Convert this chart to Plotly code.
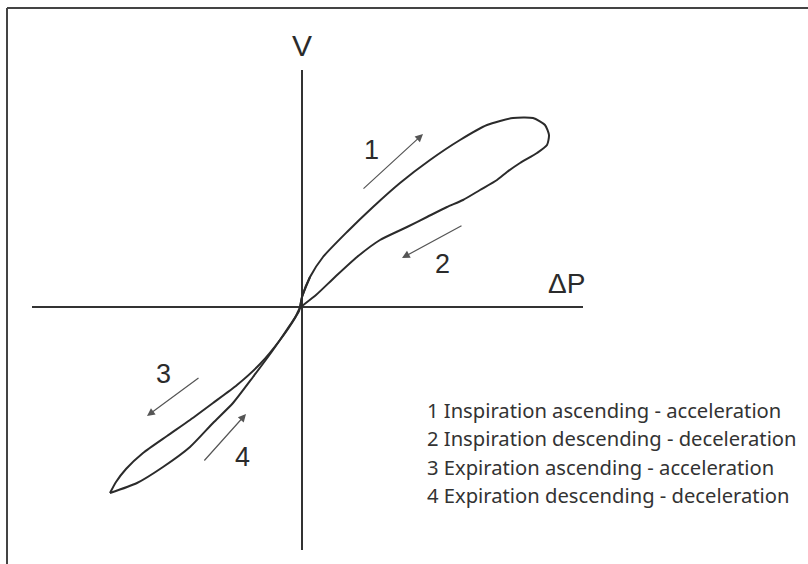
import plotly.graph_objects as go

# Pressure-volume loop (ΔP horizontal, V vertical), traced in order:
# inspiration ascending -> inspiration descending -> expiration ascending -> expiration descending
dp_inspiration = [-2, 0, 8, 21, 45, 71, 98, 128, 158, 185, 211, 231, 243, 247, 245, 235, 218, 205,
                  195, 178, 161, 145, 125, 105, 78, 55, 33, 14, -2]
v_inspiration = [-1, 10, 30, 50, 75, 100, 124, 147, 167, 182, 189, 189, 182, 172, 162, 154, 144, 135,
                 127, 117, 107, 100, 90, 80, 67, 50, 30, 12, -1]
dp_exp_ascending = [-2, -7, -22, -42, -65, -89, -112, -135, -159, -176, -186, -192]
v_exp_ascending = [-1, -11, -33, -57, -78, -96, -113, -129, -146, -162, -175, -186]
dp_exp_descending = [-192, -165, -139, -112, -89, -69, -49, -29, -12, -3, 0, 8]
v_exp_descending = [-186, -176, -160, -140, -116, -96, -70, -43, -18, -4, 10, 30]

# Axis extents
dp_axis = [-270, 281]
v_axis = [-243, 237]

# Phase arrows and their numbers
phase_labels = ["1", "2", "3", "4"]
arrow_tail_dp = [60, 161, -102, -99]
arrow_tail_v = [117, 82, -70, -155]
arrow_head_dp = [121, 100, -155, -56]
arrow_head_v = [173, 49, -109, -107]
label_dp = [69, 140, -139, -60]
label_v = [157, 43, -67, -150]

legend_lines = [
    "1 Inspiration ascending - acceleration",
    "2 Inspiration descending - deceleration",
    "3 Expiration ascending - acceleration",
    "4 Expiration descending - deceleration",
]
legend_v = [-103, -131, -160, -188]
legend_dp = 123

ink = "#2b2b2b"
fig = go.Figure()

# Axes
fig.add_trace(go.Scatter(x=dp_axis, y=[0, 0], mode="lines",
                         line=dict(color="#333333", width=2), hoverinfo="skip"))
fig.add_trace(go.Scatter(x=[0, 0], y=v_axis, mode="lines",
                         line=dict(color="#333333", width=2), hoverinfo="skip"))

# Loop segments (split at the expiration tip so it stays pointed)
for xs, ys in [(dp_inspiration + dp_exp_ascending[1:], v_inspiration + v_exp_ascending[1:]),
               (dp_exp_descending, v_exp_descending)]:
    fig.add_trace(go.Scatter(x=xs, y=ys, mode="lines",
                             line=dict(color=ink, width=2, shape="spline", smoothing=0.6),
                             hoverinfo="skip"))

annotations = []
for lab, tx, ty, hx, hy, lx, ly in zip(phase_labels, arrow_tail_dp, arrow_tail_v,
                                        arrow_head_dp, arrow_head_v, label_dp, label_v):
    annotations.append(dict(x=hx, y=hy, ax=tx, ay=ty, xref="x", yref="y", axref="x", ayref="y",
                            text="", showarrow=True, arrowhead=2, arrowsize=1.3, arrowwidth=1.2,
                            arrowcolor="#555555"))
    annotations.append(dict(x=lx, y=ly, xref="x", yref="y", text=lab, showarrow=False,
                            font=dict(family="Liberation Sans, Arial", size=27, color="#2b2b2b")))

annotations.append(dict(x=0, y=262, xref="x", yref="y", text="V", showarrow=False,
                        font=dict(family="Liberation Sans, Arial", size=30, color="#2b2b2b")))
annotations.append(dict(x=264, y=24, xref="x", yref="y", text="ΔP", showarrow=False,
                        font=dict(family="Liberation Sans, Arial", size=28, color="#2b2b2b")))

for txt, ly in zip(legend_lines, legend_v):
    annotations.append(dict(x=legend_dp, y=ly, xref="x", yref="y", text=txt, showarrow=False,
                            xanchor="left", yanchor="middle",
                            font=dict(family="Noto Sans", size=20.2, color="#333333")))

# Frame along the top and left edges
shapes = [
    dict(type="line", xref="paper", yref="paper", x0=7 / 808, x1=1.0, y0=1 - 8 / 564, y1=1 - 8 / 564,
         line=dict(color="#444444", width=2)),
    dict(type="line", xref="paper", yref="paper", x0=7 / 808, x1=7 / 808, y0=0, y1=1 - 8 / 564,
         line=dict(color="#444444", width=2)),
]

fig.update_layout(
    width=808, height=564, margin=dict(l=0, r=0, t=0, b=0),
    paper_bgcolor="white", plot_bgcolor="white", showlegend=False,
    xaxis=dict(range=[-302, 506], visible=False, fixedrange=True),
    yaxis=dict(range=[-257, 307], visible=False, fixedrange=True),
    annotations=annotations, shapes=shapes,
)

fig.write_html("out.html")
